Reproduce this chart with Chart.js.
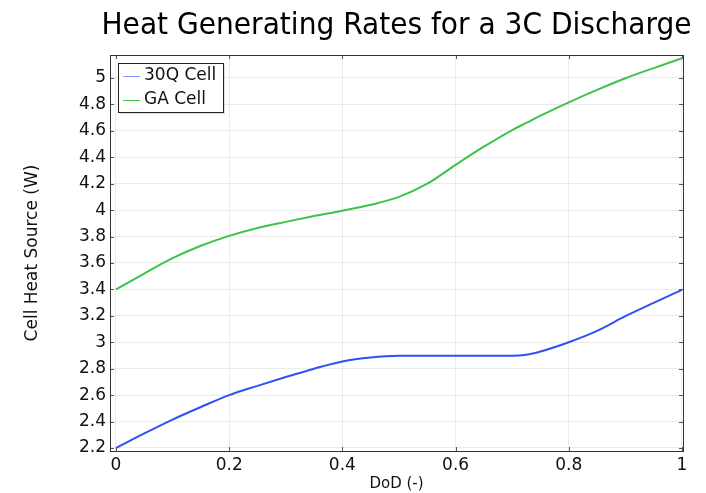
<!DOCTYPE html>
<html><head><meta charset="utf-8">
<script src="https://cdn.jsdelivr.net/npm/chart.js@4"></script>
<style>html,body{margin:0;padding:0;background:#fff;}#wrap{width:706px;height:493px;position:relative;}</style>
</head><body><div id="wrap"><canvas id="c" width="706" height="493"></canvas></div>
<script>
const chartTitle = "Heat Generating Rates for a 3C Discharge";
const xTitle = "DoD (-)";
const yTitle = "Cell Heat Source (W)";
const seriesNames = ["30Q Cell", "GA Cell"];
const dod = [0, 0.05, 0.1, 0.15, 0.2, 0.25, 0.3, 0.35, 0.4, 0.45, 0.5, 0.55, 0.6, 0.65, 0.7, 0.725, 0.75, 0.8, 0.85, 0.9, 0.95, 1.0];
const q30 = [2.2, 2.31, 2.415, 2.51, 2.6, 2.67, 2.737, 2.8, 2.855, 2.885, 2.897, 2.897, 2.897, 2.897, 2.897, 2.905, 2.93, 3.0, 3.086, 3.197, 3.298, 3.397];
const ga  = [3.4, 3.52, 3.636, 3.73, 3.805, 3.865, 3.911, 3.955, 3.995, 4.04, 4.10, 4.2, 4.343, 4.48, 4.606, 4.66, 4.715, 4.816, 4.91, 4.998, 5.075, 5.149];
const xTicks = [0, 0.2, 0.4, 0.6, 0.8, 1];
const yTicks = [2.2, 2.4, 2.6, 2.8, 3, 3.2, 3.4, 3.6, 3.8, 4, 4.2, 4.4, 4.6, 4.8, 5];
const colors = ["#2f50f5", "#3cc44a"];
const FONT = "'DejaVu Sans', sans-serif";

const pts = (xs, ys) => xs.map((x, i) => ({x: x, y: ys[i]}));

const decor = {
  id: 'decor',
  afterDraw(chart) {
    const ctx = chart.ctx, a = chart.chartArea;
    const xs = chart.scales.x, ys = chart.scales.y;
    ctx.save();
    ctx.strokeStyle = '#555'; ctx.lineWidth = 1;
    xTicks.forEach(v => {
      const px = Math.round(xs.getPixelForValue(v)) + 0.5;
      ctx.beginPath(); ctx.moveTo(px, a.bottom); ctx.lineTo(px, a.bottom - 4); ctx.stroke();
      ctx.beginPath(); ctx.moveTo(px, a.top); ctx.lineTo(px, a.top + 4); ctx.stroke();
    });
    yTicks.forEach(v => {
      const py = Math.round(ys.getPixelForValue(v)) + 0.5;
      ctx.beginPath(); ctx.moveTo(a.left, py); ctx.lineTo(a.left + 4, py); ctx.stroke();
      ctx.beginPath(); ctx.moveTo(a.right, py); ctx.lineTo(a.right - 4, py); ctx.stroke();
    });
    ctx.strokeStyle = '#333';
    ctx.strokeRect(Math.round(a.left) + 0.5, Math.round(a.top) + 0.5, Math.round(a.right - a.left), Math.round(a.bottom - a.top));
    ctx.fillStyle = '#000';
    ctx.font = "31px 'DejaVu Sans Condensed', 'DejaVu Sans', sans-serif";
    ctx.textAlign = 'center'; ctx.textBaseline = 'middle';
    const tw = ctx.measureText(chartTitle).width;
    const target = 590;
    ctx.save();
    ctx.translate((a.left + a.right) / 2, 26);
    ctx.scale(target / tw, 1);
    ctx.fillText(chartTitle, 0, 0);
    ctx.restore();
    const lx = 118, ly = 63, lw = 105, lh = 49;
    ctx.fillStyle = 'rgba(0,0,0,0.12)';
    ctx.fillRect(lx + 2, ly + 2, lw, lh);
    ctx.fillStyle = '#fff';
    ctx.fillRect(lx, ly, lw, lh);
    ctx.strokeStyle = '#222';
    ctx.strokeRect(lx + 0.5, ly + 0.5, lw, lh);
    ctx.font = "17px " + FONT;
    ctx.textAlign = 'left'; ctx.textBaseline = 'middle';
    chart.data.datasets.forEach((ds, i) => {
      const yy = ly + 13 + i * 24;
      ctx.strokeStyle = i === 0 ? '#7f95ff' : ds.borderColor; ctx.lineWidth = 1;
      ctx.beginPath(); ctx.moveTo(lx + 5, yy + 0.5); ctx.lineTo(lx + 22, yy + 0.5); ctx.stroke();
      ctx.fillStyle = '#111';
      ctx.fillText(ds.label, lx + 26, yy);
    });
    ctx.restore();
  }
};

new Chart(document.getElementById('c'), {
  type: 'line',
  data: {
    datasets: [
      {label: seriesNames[0], data: pts(dod, q30), borderColor: colors[0], borderWidth: 2, pointRadius: 0, cubicInterpolationMode: 'monotone', fill: false},
      {label: seriesNames[1], data: pts(dod, ga), borderColor: colors[1], borderWidth: 2, pointRadius: 0, cubicInterpolationMode: 'monotone', fill: false}
    ]
  },
  options: {
    responsive: false,
    animation: false,
    devicePixelRatio: 1,
    layout: {padding: {top: 55, right: 23, left: 0, bottom: 0}},
    plugins: {legend: {display: false}, title: {display: false}, tooltip: {enabled: false}},
    scales: {
      x: {
        type: 'linear', min: -0.0106, max: 1.0018,
        afterBuildTicks: s => { s.ticks = xTicks.map(v => ({value: v})); },
        afterFit: s => { s.height = 42; },
        grid: {color: '#ebebeb', drawTicks: false},
        border: {display: false},
        ticks: {color: '#111', font: {family: FONT, size: 17}, padding: 4, maxRotation: 0, autoSkip: false, callback: v => String(Math.round(v * 10) / 10)},
        title: {display: true, text: xTitle, color: '#111', font: {family: FONT, size: 15}, padding: {top: 0, bottom: 0}}
      },
      y: {
        type: 'linear', min: 2.177, max: 5.174,
        afterBuildTicks: s => { s.ticks = yTicks.map(v => ({value: v})); },
        afterFit: s => { s.width = 110; },
        grid: {color: '#ebebeb', drawTicks: false},
        border: {display: false},
        ticks: {color: '#111', font: {family: FONT, size: 17}, padding: 4, autoSkip: false, callback: v => String(Math.round(v * 10) / 10)},
        title: {display: true, text: yTitle, color: '#111', font: {family: FONT, size: 17}, padding: {top: 22, bottom: 0}}
      }
    }
  },
  plugins: [decor]
});
</script>
</body></html>
